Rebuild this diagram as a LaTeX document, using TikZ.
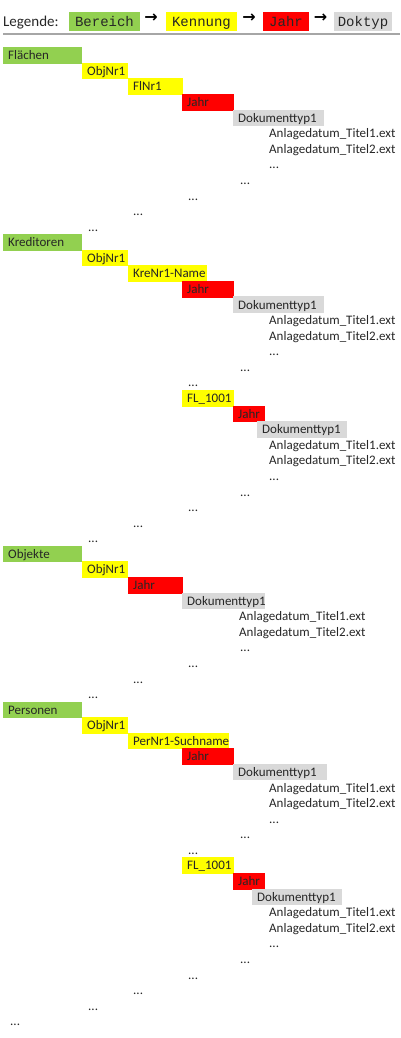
\documentclass[tikz,border=0pt]{standalone}
\usepackage{fontspec}
\setmainfont{Carlito}
\newfontfamily\legmono{Liberation Mono}
\newfontfamily\arrowfont{DejaVu Sans}
\definecolor{xgreen}{HTML}{92D050}
\definecolor{xyellow}{HTML}{FFFF00}
\definecolor{xred}{HTML}{FF0000}
\definecolor{xgrey}{HTML}{D9D9D9}
\definecolor{txt}{HTML}{262626}
\definecolor{rule}{HTML}{A6A6A6}
\tikzset{
  cellbox/.style={anchor=west, inner xsep=5pt, inner ysep=0pt, minimum height=16.6pt,
    align=left, font=\fontsize{13}{15}\selectfont, text=txt, text height=8.6pt, text depth=0pt},
  plaintext/.style={anchor=base west, inner sep=0pt, font=\fontsize{13}{15}\selectfont, text=txt},
  legbox/.style={inner sep=0pt, minimum height=19pt, font=\legmono\fontsize{14}{16}\selectfont,
    text=txt, text height=9.5pt, text depth=0pt},
  legarrow/.style={anchor=base, inner sep=0pt, font=\arrowfont\bfseries\fontsize{16}{19}\selectfont, text=black}
}
\newcommand{\cellat}[6]{%
  \pgfmathsetmacro{\cy}{55.5+15.58*#3}%
  \pgfmathsetmacro{\tw}{#4-10}%
  \node[cellbox, fill=#5, text width=\tw pt] (#1) at (#2,\cy) {\mbox{#6}};}
\newcommand{\txtat}[4]{%
  \pgfmathsetmacro{\cy}{55.5+15.58*#3+4.3}%
  \node[plaintext] (#1) at (#2,\cy) {#4};}
\begin{document}
\begin{tikzpicture}[x=1pt,y=-1pt]
\useasboundingbox (0,0) rectangle (400,1038);
% legend
\node[anchor=base west, inner sep=0pt, font=\fontsize{15}{18}\selectfont, text=txt] (leg) at (3,26.7) {Legende:};
\node[legbox, fill=xgreen, minimum width=71pt] (lgb) at (104.5,21.5) {Bereich};
\node[legarrow] (la1) at (151,22.5) {→};
\node[legbox, fill=xyellow, minimum width=71pt] (lgk) at (201.5,21.5) {Kennung};
\node[legarrow] (la2) at (249,22.5) {→};
\node[legbox, fill=xred, minimum width=46pt] (lgj) at (286,21.5) {Jahr};
\node[legarrow] (la3) at (320.5,22.5) {→};
\node[legbox, fill=xgrey, minimum width=58pt] (lgd) at (363,21.5) {Doktyp};
\coordinate (rl) at (3,34.5);
\coordinate (rr) at (400,34.5);
\draw[rule, line width=2pt] (rl) -- (rr);
% Flaechen
\cellat{f0}{3}{0}{79}{xgreen}{Flächen}
\cellat{f1}{82}{1}{46}{xyellow}{ObjNr1}
\cellat{f2}{128}{2}{55}{xyellow}{FlNr1}
\cellat{f3}{182}{3}{52}{xred}{Jahr}
\cellat{f4}{233}{4}{91}{xgrey}{Dokumenttyp1}
\txtat{f5}{269}{5}{Anlagedatum\_Titel1.ext}
\txtat{f6}{269}{6}{Anlagedatum\_Titel2.ext}
\txtat{f7}{269}{7}{...}
\txtat{f8}{240}{8}{...}
\txtat{f9}{188}{9}{...}
\txtat{f10}{133}{10}{...}
\txtat{f11}{88}{11}{...}
% Kreditoren
\cellat{k0}{3}{12}{79}{xgreen}{Kreditoren}
\cellat{k1}{82}{13}{46}{xyellow}{ObjNr1}
\cellat{k2}{128}{14}{79}{xyellow}{KreNr1-Name}
\cellat{k3}{182}{15}{52}{xred}{Jahr}
\cellat{k4}{233}{16}{91}{xgrey}{Dokumenttyp1}
\txtat{k5}{269}{17}{Anlagedatum\_Titel1.ext}
\txtat{k6}{269}{18}{Anlagedatum\_Titel2.ext}
\txtat{k7}{269}{19}{...}
\txtat{k8}{240}{20}{...}
\txtat{k9}{188}{21}{...}
\cellat{k10}{182}{22}{52}{xyellow}{FL\_1001}
\cellat{k11}{233}{23}{32}{xred}{Jahr}
\cellat{k12}{257}{24}{90}{xgrey}{Dokumenttyp1}
\txtat{k13}{269}{25}{Anlagedatum\_Titel1.ext}
\txtat{k14}{269}{26}{Anlagedatum\_Titel2.ext}
\txtat{k15}{269}{27}{...}
\txtat{k16}{240}{28}{...}
\txtat{k17}{188}{29}{...}
\txtat{k18}{133}{30}{...}
\txtat{k19}{88}{31}{...}
% Objekte
\cellat{o0}{3}{32}{79}{xgreen}{Objekte}
\cellat{o1}{82}{33}{46}{xyellow}{ObjNr1}
\cellat{o2}{128}{34}{55}{xred}{Jahr}
\cellat{o3}{182}{35}{83}{xgrey}{Dokumenttyp1}
\txtat{o4}{239}{36}{Anlagedatum\_Titel1.ext}
\txtat{o5}{239}{37}{Anlagedatum\_Titel2.ext}
\txtat{o6}{240}{38}{...}
\txtat{o7}{188}{39}{...}
\txtat{o8}{133}{40}{...}
\txtat{o9}{88}{41}{...}
% Personen
\cellat{p0}{3}{42}{79}{xgreen}{Personen}
\cellat{p1}{82}{43}{46}{xyellow}{ObjNr1}
\cellat{p2}{128}{44}{101}{xyellow}{PerNr1-Suchname}
\cellat{p3}{182}{45}{52}{xred}{Jahr}
\cellat{p4}{233}{46}{94}{xgrey}{Dokumenttyp1}
\txtat{p5}{269}{47}{Anlagedatum\_Titel1.ext}
\txtat{p6}{269}{48}{Anlagedatum\_Titel2.ext}
\txtat{p7}{269}{49}{...}
\txtat{p8}{240}{50}{...}
\txtat{p9}{188}{51}{...}
\cellat{p10}{182}{52}{52}{xyellow}{FL\_1001}
\cellat{p11}{233}{53}{32}{xred}{Jahr}
\cellat{p12}{252}{54}{90}{xgrey}{Dokumenttyp1}
\txtat{p13}{269}{55}{Anlagedatum\_Titel1.ext}
\txtat{p14}{269}{56}{Anlagedatum\_Titel2.ext}
\txtat{p15}{269}{57}{...}
\txtat{p16}{240}{58}{...}
\txtat{p17}{188}{59}{...}
\txtat{p18}{133}{60}{...}
\txtat{p19}{88}{61}{...}
\txtat{p20}{10}{62}{...}
\end{tikzpicture}
\end{document}
